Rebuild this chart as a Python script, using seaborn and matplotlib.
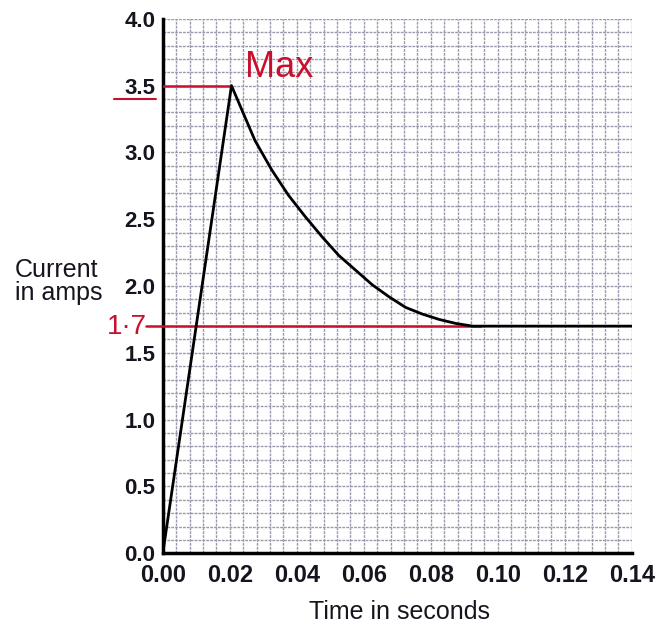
import numpy as np
import pandas as pd
import seaborn as sns
from matplotlib import pyplot as plt
from matplotlib.ticker import FormatStrFormatter

# values
time_s = [0.0, 0.0205, 0.0275, 0.0325, 0.0375, 0.0425, 0.0475, 0.0525, 0.0575,
          0.0625, 0.0675, 0.0725, 0.0775, 0.0825, 0.0875, 0.0925, 0.14]
current_a = [0.0, 3.5, 3.09, 2.87, 2.68, 2.52, 2.37, 2.23, 2.12,
             2.01, 1.92, 1.84, 1.79, 1.75, 1.72, 1.70, 1.70]
peak_t, peak_i = 0.0205, 3.5
steady_i, steady_end_t = 1.7, 0.095
x_ticks = [0.00, 0.02, 0.04, 0.06, 0.08, 0.10, 0.12, 0.14]
y_ticks = [0.0, 0.5, 1.0, 1.5, 2.0, 2.5, 3.0, 3.5, 4.0]

sns.set_style("white")
plt.rcParams['font.family'] = ['Liberation Sans', 'DejaVu Sans']

RED = '#c8102e'
INK = '#15151f'

df = pd.DataFrame({'t': time_s, 'i': current_a})

fig = plt.figure(figsize=(6.7, 6.28), dpi=100)
ax = fig.add_axes([0.243, 0.119, 0.700, 0.851])

# graph paper grid
ax.set_xticks(np.arange(0, 0.1401, 0.004), minor=True)
ax.set_yticks(np.arange(0, 4.001, 0.1), minor=True)
ax.grid(which='both', color='#9a9aae', linewidth=1.0, linestyle=(0, (2.0, 0.8)), zorder=0)
ax.set_axisbelow(True)

# red helper lines
ax.plot([0, peak_t], [peak_i, peak_i], color=RED, lw=1.8, zorder=3)
ax.plot([-0.005, steady_end_t], [steady_i, steady_i], color=RED, lw=1.8, zorder=3, clip_on=False)

sns.lineplot(data=df, x='t', y='i', ax=ax, color='black', linewidth=2.0, zorder=4)

ax.set_xlim(0, 0.14)
ax.set_ylim(0, 4.0)
ax.set_xticks(x_ticks)
ax.set_yticks(y_ticks)
ax.xaxis.set_major_formatter(FormatStrFormatter('%.2f'))
ax.yaxis.set_major_formatter(FormatStrFormatter('%.1f'))
ax.tick_params(which='major', direction='inout', length=7, width=1.5, color='black',
               labelcolor=INK)
ax.tick_params(axis='x', which='major', labelsize=17, pad=4)
ax.tick_params(axis='y', which='major', labelsize=16, pad=2)
ax.tick_params(which='minor', length=0)
for lab in ax.get_xticklabels() + ax.get_yticklabels():
    lab.set_fontweight('bold')

for s in ['top', 'right']:
    ax.spines[s].set_visible(False)
for s in ['left', 'bottom']:
    ax.spines[s].set_linewidth(2.5)
    ax.spines[s].set_color('black')

ax.set_xlabel('')
ax.set_ylabel('')
fig.text(0.597, 0.026, 'Time in seconds', fontsize=18, ha='center', va='center', color=INK)
fig.text(0.022, 0.551, 'Current\nin amps', fontsize=18, ha='left', va='center',
         color=INK, linespacing=0.95)

# handwritten notes
fig.text(0.366, 0.893, 'Max', color=RED, fontsize=26, ha='left', va='center')
fig.text(0.160, 0.480, '1·7', color=RED, fontsize=20, ha='left', va='center')
fig.add_artist(plt.Line2D([0.170, 0.233], [0.843, 0.843], color=RED, lw=1.5))

fig.savefig('out.png', dpi=100)
